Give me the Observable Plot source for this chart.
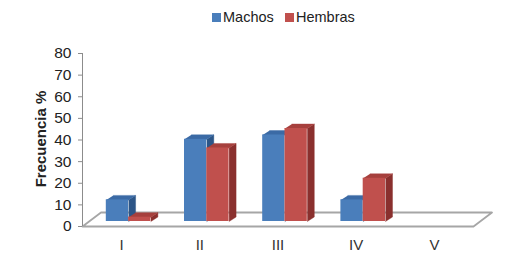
<!DOCTYPE html>
<html><head><meta charset="utf-8">
<script src="https://cdn.jsdelivr.net/npm/d3@7"></script>
<script src="https://cdn.jsdelivr.net/npm/@observablehq/plot@0.6"></script>
<style>
body{margin:0;background:#fff;font-family:"Liberation Sans",Arial,sans-serif;}
#legend{position:relative;height:34px;width:518px;}
.li{position:absolute;top:9px;display:flex;align-items:center;font-size:14.5px;color:#222;line-height:16px;}
.sw{width:9px;height:9px;margin-right:2px;}
#chart svg{display:block;}
</style></head><body>
<div id="legend"></div>
<div id="chart"></div>
<script>
const categories = ["I", "II", "III", "IV", "V"];
const seriesNames = ["Machos", "Hembras"];
const machos = [10, 38, 40, 10, 0];
const hembras = [2, 34, 43, 20, 0];
const yTicks = [0, 10, 20, 30, 40, 50, 60, 70, 80];

const palette = {
  Machos: {front: "#4A7EBB", side: "#2C5587", top: "#3B6AA5"},
  Hembras: {front: "#C0504D", side: "#8A302E", top: "#A6403D"}
};

// legend
const legend = document.getElementById("legend");
[["Machos", 212], ["Hembras", 285]].forEach(([name, left]) => {
  const d = document.createElement("div");
  d.className = "li"; d.style.left = left + "px";
  d.innerHTML = `<span class="sw" style="background:${palette[name].front}"></span>${name}`;
  legend.appendChild(d);
});

// layout
const W = 518, H = 222, ML = 82, MR = 45, MT = 19, MB = 30;
const kx = (W - ML - MR) / categories.length;
const ky = (H - MT - MB) / 80;
const px = p => p / kx, py = p => p / ky;
const base = py(5);          // bars stand mid-depth on the floor
const barW = px(22.3), shift = px(7);
const dX = px(7), dY = py(4.5);   // bar depth
const fX = px(18.5), fY = py(14); // floor depth

const bars = [];
categories.forEach((c, i) => {
  [machos[i], hembras[i]].forEach((v, s) => {
    if (v <= 0) return;
    const x1 = i + 0.5 + shift - barW + s * barW, x2 = x1 + barW;
    bars.push({id: c + s, series: seriesNames[s], x1, x2, y1: base, y2: base + v});
  });
});
const sides = [], tops = [];
for (const b of bars) {
  [[b.x2, b.y1], [b.x2 + dX, b.y1 + dY], [b.x2 + dX, b.y2 + dY], [b.x2, b.y2]]
    .forEach(([x, y]) => sides.push({id: b.id, series: b.series, x, y}));
  [[b.x1, b.y2], [b.x2, b.y2], [b.x2 + dX, b.y2 + dY], [b.x1 + dX, b.y2 + dY]]
    .forEach(([x, y]) => tops.push({id: b.id, series: b.series, x, y}));
}
const n = categories.length;
const floor = [[0, 0], [n, 0], [n + fX, fY], [fX, fY], [0, 0]].map(([x, y]) => ({x, y}));

const marks = [
  Plot.line(floor, {x: "x", y: "y", fill: "white", stroke: "#a6a6a6", strokeWidth: 1.8}),
];
for (const s of seriesNames) {
  marks.push(Plot.line(sides.filter(d => d.series === s), {x: "x", y: "y", z: "id", fill: palette[s].side, stroke: palette[s].side, strokeWidth: 0.4}));
}
for (const s of seriesNames) {
  marks.push(Plot.line(tops.filter(d => d.series === s), {x: "x", y: "y", z: "id", fill: palette[s].top, stroke: palette[s].top, strokeWidth: 0.4}));
}
for (const s of seriesNames) {
  marks.push(Plot.rect(bars.filter(d => d.series === s), {x1: "x1", x2: "x2", y1: "y1", y2: "y2", fill: palette[s].front}));
}
marks.push(
  Plot.ruleX([0], {y1: 0, y2: 80, stroke: "#8c8c8c"}),
  Plot.axisY({ticks: yTicks, tickSize: 4, tickPadding: 7, stroke: "#8c8c8c", fill: "#222", fontSize: 15.5}),
  Plot.axisX({ticks: categories.map((c, i) => i + 0.5), tickFormat: d => categories[Math.floor(d)], tickSize: 0, tickPadding: 13, fill: "#333", fontSize: 15}),
  Plot.text(["Frecuencia %"], {text: d => d, frameAnchor: "left", textAnchor: "middle", rotate: -90, dx: -41, dy: -1, fontWeight: "bold", fontSize: 15, fill: "#222"})
);

const chart = Plot.plot({
  width: W, height: H,
  marginLeft: ML, marginRight: MR, marginTop: MT, marginBottom: MB,
  x: {domain: [0, n], axis: null},
  y: {domain: [0, 80], axis: null},
  style: {fontFamily: "'Liberation Sans', Arial, sans-serif", fontSize: "15px", background: "white", overflow: "visible"},
  marks
});
document.getElementById("chart").appendChild(chart);
</script>
</body></html>
